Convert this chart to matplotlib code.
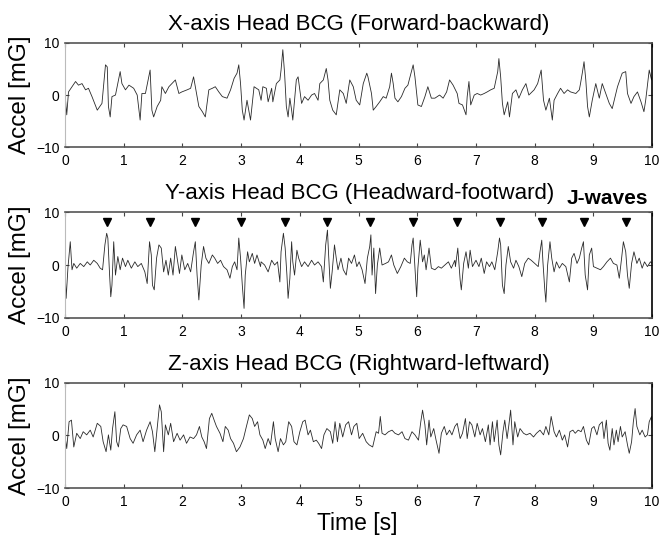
import numpy as np
import matplotlib
matplotlib.use("Agg")
import matplotlib.pyplot as plt

# head BCG traces, (time [s], accel [mG])
x_samples = [
    (0.00, 0.3), (0.03, -3.8), (0.06, 0.6), (0.18, 2.6), (0.23, 1.9), (0.29, 2.2),
    (0.35, 1.0), (0.40, 1.3), (0.46, -0.3), (0.55, -2.9), (0.63, -1.6), (0.69, 5.8),
    (0.72, 5.4), (0.74, -2.2), (0.77, -4.2), (0.80, -0.3), (0.86, 0.0), (0.94, 4.5),
    (0.97, 2.2), (1.03, 1.0), (1.09, 1.9), (1.17, 1.3), (1.23, 0.0), (1.28, -4.8),
    (1.31, 0.3), (1.37, 0.3), (1.45, 4.8), (1.48, -2.9), (1.51, -4.2), (1.57, -2.2),
    (1.63, -1.0), (1.65, 1.6), (1.71, 0.3), (1.77, 1.6), (1.82, 2.2), (1.88, 2.9),
    (1.94, 0.3), (1.99, 0.6), (2.08, 1.0), (2.14, 1.3), (2.19, 3.5), (2.22, 1.6),
    (2.28, -2.2), (2.34, -3.2), (2.39, -4.2), (2.45, 1.0), (2.51, 1.3), (2.56, 1.6),
    (2.62, 0.6), (2.68, -0.3), (2.76, -0.6), (2.82, 1.0), (2.88, 3.2), (2.93, 4.2),
    (2.96, 5.8), (2.99, 2.2), (3.02, -2.9), (3.05, -4.8), (3.10, -1.0), (3.16, -4.8),
    (3.22, 1.6), (3.30, 1.0), (3.34, -1.0), (3.37, 1.6), (3.43, 1.3), (3.46, -1.3),
    (3.52, 1.3), (3.54, -1.3), (3.60, 2.2), (3.66, 2.9), (3.68, 4.8), (3.71, 8.7),
    (3.74, 4.2), (3.77, -2.2), (3.80, -4.2), (3.83, -0.6), (3.86, -2.9), (3.88, -4.8),
    (3.91, -1.0), (3.94, 2.9), (3.97, 3.5), (4.00, 1.0), (4.03, -1.6), (4.08, -0.3),
    (4.14, -1.0), (4.20, 0.0), (4.25, 0.3), (4.31, -1.0), (4.34, 2.2), (4.40, 2.9),
    (4.45, 5.1), (4.48, 2.9), (4.51, -1.0), (4.56, -2.9), (4.62, -3.8), (4.68, 1.0),
    (4.74, 0.3), (4.79, -1.6), (4.85, 2.9), (4.91, 1.6), (4.96, -1.0), (5.02, -1.9),
    (5.08, 2.2), (5.14, 4.2), (5.16, 3.5), (5.22, 0.3), (5.25, -2.9), (5.30, -2.2),
    (5.36, -1.3), (5.42, -0.3), (5.47, -0.6), (5.53, 1.6), (5.56, 4.2), (5.59, 2.2),
    (5.62, -0.6), (5.67, -1.3), (5.73, -0.3), (5.79, 1.3), (5.84, 1.9), (5.90, 4.5),
    (5.93, 5.8), (5.96, 3.5), (6.01, -1.9), (6.07, -2.2), (6.13, -0.3), (6.18, 1.6),
    (6.24, -0.6), (6.30, -0.6), (6.38, 0.0), (6.44, -0.6), (6.50, 0.6), (6.55, 2.9),
    (6.61, 1.9), (6.68, 0.3), (6.71, -1.6), (6.77, -1.9), (6.83, -3.8), (6.85, -0.3),
    (6.88, 2.6), (6.91, -1.9), (6.97, 0.0), (7.02, 0.3), (7.08, 0.0), (7.14, 0.3),
    (7.19, 0.6), (7.25, 1.0), (7.31, 1.3), (7.37, 4.5), (7.39, 7.0), (7.42, 3.5),
    (7.45, -1.6), (7.48, -3.8), (7.54, -1.3), (7.57, -4.2), (7.62, 0.3), (7.68, 1.0),
    (7.73, -0.6), (7.79, 1.0), (7.85, 2.2), (7.90, 0.0), (7.99, 1.0), (8.05, 2.2),
    (8.11, 4.8), (8.15, -1.0), (8.19, -2.9), (8.25, -0.6), (8.30, -4.8), (8.33, -1.0),
    (8.39, 0.3), (8.44, 1.3), (8.50, 0.3), (8.56, 1.0), (8.61, 0.6), (8.70, 0.3),
    (8.76, 1.0), (8.78, 2.2), (8.81, 4.2), (8.84, 6.4), (8.87, 2.9), (8.90, -2.2),
    (8.93, -4.2), (8.98, -1.0), (9.04, 2.2), (9.10, -0.6), (9.15, 2.2), (9.21, 0.3),
    (9.27, -1.6), (9.32, -2.6), (9.41, 1.6), (9.49, 4.2), (9.55, 4.5), (9.58, 0.3),
    (9.64, -1.6), (9.69, -0.3), (9.75, 0.6), (9.81, -1.3), (9.86, -3.2), (9.89, -1.0),
    (9.95, 4.8), (9.99, 2.9), (10.00, 3.5),
]

y_samples = [
    (0.00, -0.3), (0.02, -6.3), (0.05, -0.6), (0.09, 4.4), (0.12, -0.9), (0.15, 0.3),
    (0.20, -0.6), (0.26, 0.3), (0.32, -0.3), (0.38, 0.6), (0.43, 0.0), (0.49, 0.9),
    (0.55, 0.3), (0.60, -0.6), (0.64, -0.9), (0.68, 3.8), (0.71, 6.0), (0.73, 5.1),
    (0.76, -1.9), (0.78, -6.0), (0.80, -3.8), (0.83, 4.4), (0.86, -1.9), (0.90, 1.6),
    (0.94, -0.9), (0.98, 1.3), (1.03, -0.3), (1.07, 0.9), (1.13, -0.6), (1.19, 0.6),
    (1.24, -0.3), (1.30, 0.3), (1.36, -1.3), (1.40, -3.5), (1.44, 4.4), (1.47, 1.9),
    (1.49, -3.8), (1.52, -4.7), (1.56, 1.3), (1.60, 3.8), (1.64, 3.2), (1.68, -1.3),
    (1.72, 0.9), (1.76, -1.9), (1.80, 1.3), (1.84, -1.9), (1.88, 3.5), (1.91, 1.3),
    (1.95, -1.6), (1.99, 1.9), (2.04, -0.9), (2.09, 0.3), (2.14, -1.3), (2.19, 2.5),
    (2.22, 4.4), (2.25, -1.9), (2.28, -6.6), (2.32, 0.0), (2.36, 3.5), (2.40, 1.3),
    (2.45, 0.3), (2.51, 1.9), (2.55, 1.3), (2.60, 0.3), (2.65, 0.9), (2.70, -0.3),
    (2.76, -0.9), (2.81, -2.5), (2.85, -0.3), (2.89, 0.6), (2.93, -0.9), (2.96, 5.1),
    (2.99, 1.3), (3.02, -3.8), (3.05, -8.2), (3.07, -1.9), (3.11, 2.5), (3.14, 0.6),
    (3.19, 2.2), (3.23, 0.3), (3.27, 1.9), (3.33, -0.3), (3.34, 0.6), (3.40, 0.0),
    (3.46, -1.3), (3.52, 0.9), (3.57, 0.0), (3.62, 0.6), (3.66, -3.2), (3.68, 2.5),
    (3.72, 6.0), (3.75, 3.2), (3.78, -1.9), (3.80, -6.3), (3.83, -2.5), (3.86, 4.4),
    (3.88, 0.6), (3.91, -1.9), (3.95, 2.8), (3.98, 1.3), (4.03, -0.3), (4.08, 0.6),
    (4.14, -0.3), (4.20, 0.9), (4.25, 0.0), (4.31, 0.6), (4.37, -0.3), (4.40, -3.2),
    (4.44, 3.8), (4.47, 6.6), (4.49, 1.9), (4.52, -4.4), (4.55, -1.3), (4.59, 3.8),
    (4.62, 1.3), (4.65, -0.9), (4.70, 1.3), (4.74, -0.9), (4.79, -1.9), (4.83, 1.3),
    (4.88, 0.3), (4.93, 1.9), (4.97, -0.3), (5.01, 0.6), (5.06, -0.9), (5.11, -3.5),
    (5.15, 1.3), (5.19, 3.5), (5.21, 5.7), (5.23, -1.9), (5.26, 3.2), (5.29, -5.4),
    (5.32, 0.0), (5.36, 3.2), (5.40, 0.0), (5.46, 0.3), (5.51, 0.6), (5.56, 1.9),
    (5.60, 0.0), (5.66, -1.6), (5.72, -0.3), (5.78, 1.3), (5.83, 0.6), (5.88, 0.3),
    (5.91, 3.8), (5.93, 5.1), (5.96, -0.6), (5.99, -6.0), (6.01, -0.6), (6.05, 4.7),
    (6.09, 0.6), (6.12, 1.9), (6.15, -0.9), (6.20, 3.2), (6.24, -0.6), (6.30, -0.9),
    (6.36, -0.3), (6.41, -0.6), (6.47, 0.0), (6.53, 0.6), (6.58, -0.6), (6.64, 0.9),
    (6.65, -0.3), (6.69, 3.2), (6.73, -2.8), (6.75, -4.7), (6.79, 0.3), (6.83, 2.5),
    (6.87, -0.6), (6.90, 2.8), (6.94, -0.3), (7.00, 0.9), (7.05, -0.3), (7.09, 1.3),
    (7.14, -1.6), (7.18, 0.6), (7.23, -0.3), (7.27, 0.6), (7.32, -0.9), (7.37, 2.5),
    (7.40, 5.1), (7.42, 3.8), (7.45, -3.8), (7.48, -5.4), (7.51, 0.0), (7.55, 3.5),
    (7.59, 0.6), (7.64, -0.6), (7.68, 0.9), (7.73, -0.3), (7.78, -2.2), (7.83, 0.3),
    (7.89, 1.3), (7.94, 0.9), (8.00, 0.3), (8.06, -0.3), (8.09, 2.5), (8.12, 4.7),
    (8.14, 0.6), (8.17, -4.4), (8.19, -7.0), (8.22, 0.0), (8.26, 4.4), (8.29, 1.3),
    (8.33, -1.3), (8.37, 0.6), (8.42, -0.6), (8.47, 0.3), (8.53, -0.3), (8.59, -3.2),
    (8.63, 1.3), (8.67, 2.2), (8.72, 0.3), (8.76, 1.3), (8.80, 3.2), (8.83, 4.4),
    (8.86, -1.9), (8.90, -4.7), (8.93, 1.9), (8.97, 3.2), (9.00, -0.3), (9.06, -0.6),
    (9.12, -0.9), (9.17, -0.3), (9.23, 0.6), (9.29, 1.3), (9.34, 0.3), (9.40, 0.0),
    (9.44, -2.5), (9.48, 1.3), (9.51, 4.4), (9.55, 2.5), (9.58, -1.9), (9.61, -4.4),
    (9.65, 0.3), (9.69, 2.5), (9.74, 0.3), (9.78, 1.3), (9.83, -0.6), (9.87, 0.6),
    (9.92, -0.3), (9.97, 0.6), (10.00, 0.3),
]

z_samples = [
    (0.00, 0.0), (0.03, -2.5), (0.07, 2.6), (0.11, 2.9), (0.15, -2.2), (0.20, 0.4),
    (0.26, -0.6), (0.31, 0.7), (0.37, 0.1), (0.43, 1.0), (0.48, -0.3), (0.55, 2.3),
    (0.61, 1.7), (0.65, -1.2), (0.70, -3.1), (0.74, 0.1), (0.78, -2.8), (0.81, 1.3),
    (0.85, 4.5), (0.88, -1.2), (0.91, -2.2), (0.95, 1.3), (0.99, 2.0), (1.05, 1.7),
    (1.11, -0.6), (1.16, -1.5), (1.22, 0.1), (1.28, 1.0), (1.33, -1.2), (1.39, 1.0),
    (1.45, 2.6), (1.49, 0.7), (1.53, -3.1), (1.57, 1.3), (1.61, 5.8), (1.64, 4.5),
    (1.68, -3.1), (1.71, 2.0), (1.76, 0.1), (1.80, 2.3), (1.85, -1.2), (1.91, 0.4),
    (1.96, -0.9), (2.02, 0.1), (2.07, -1.5), (2.13, -0.3), (2.19, -0.6), (2.24, 0.1),
    (2.29, 1.7), (2.33, -0.3), (2.37, -1.2), (2.41, -2.5), (2.46, 3.2), (2.50, 4.2),
    (2.54, 2.9), (2.58, 1.7), (2.64, 0.4), (2.69, -1.2), (2.73, 1.7), (2.78, 1.0),
    (2.82, -0.6), (2.87, -1.5), (2.92, -3.1), (2.98, -2.2), (3.04, -0.6), (3.09, 1.7),
    (3.14, 3.9), (3.19, 3.2), (3.23, 1.7), (3.28, 2.6), (3.32, 0.1), (3.37, -0.9),
    (3.41, -2.5), (3.46, -0.6), (3.50, -1.8), (3.55, 2.6), (3.58, -0.6), (3.63, -3.1),
    (3.67, -0.6), (3.72, -1.8), (3.76, -1.2), (3.81, 2.6), (3.86, 1.7), (3.90, -1.2),
    (3.95, -1.8), (4.00, 0.7), (4.05, 2.6), (4.09, 2.9), (4.14, 0.1), (4.18, 1.0),
    (4.23, -1.2), (4.28, -0.9), (4.32, -1.5), (4.37, -2.5), (4.41, 0.1), (4.46, 1.3),
    (4.52, 0.7), (4.56, -1.5), (4.60, 2.6), (4.64, -1.2), (4.68, 2.3), (4.73, -0.3),
    (4.78, 2.0), (4.83, 2.6), (4.88, 0.1), (4.92, 1.7), (4.97, 2.3), (5.01, -0.6),
    (5.07, 0.4), (5.13, -1.2), (5.18, -1.8), (5.24, -2.2), (5.30, 0.7), (5.34, 0.4),
    (5.37, 3.6), (5.40, 0.4), (5.45, 0.1), (5.51, 0.7), (5.57, 1.0), (5.62, 0.4),
    (5.68, 0.1), (5.74, 0.7), (5.79, -0.6), (5.85, -0.9), (5.91, 0.7), (5.96, 0.1),
    (6.02, -0.9), (6.06, 2.6), (6.09, 4.8), (6.13, 2.0), (6.16, -1.8), (6.20, 2.9),
    (6.23, -0.3), (6.28, 1.3), (6.32, -0.9), (6.37, -3.4), (6.41, 0.4), (6.46, 1.7),
    (6.50, 0.1), (6.55, 1.0), (6.59, 0.1), (6.64, 1.7), (6.68, 2.3), (6.73, -0.6),
    (6.77, 0.4), (6.82, 3.2), (6.85, -0.6), (6.89, 2.6), (6.93, 2.0), (6.98, -0.3),
    (7.02, 2.3), (7.07, 0.1), (7.11, 1.3), (7.16, -1.2), (7.21, 2.0), (7.24, -1.8),
    (7.28, 2.6), (7.31, -1.2), (7.36, 2.9), (7.39, -1.8), (7.42, -3.7), (7.46, 0.7),
    (7.49, 2.9), (7.53, -0.6), (7.56, 2.0), (7.59, 4.8), (7.63, -1.8), (7.66, 2.6),
    (7.71, -0.3), (7.75, 1.3), (7.81, 0.4), (7.86, 0.1), (7.92, 0.4), (7.98, -0.3),
    (8.03, 0.4), (8.09, 1.0), (8.15, 0.1), (8.19, 1.7), (8.24, 0.1), (8.28, 3.6),
    (8.33, 0.7), (8.37, -0.3), (8.42, 1.0), (8.47, -0.9), (8.51, 0.1), (8.56, -2.2),
    (8.60, 0.7), (8.65, 1.0), (8.69, 0.4), (8.74, 1.0), (8.79, 0.7), (8.83, 1.7),
    (8.88, -0.9), (8.92, -1.8), (8.97, 1.3), (9.01, 1.7), (9.06, 0.1), (9.10, 2.0),
    (9.15, 2.6), (9.18, -0.6), (9.22, 2.9), (9.25, -1.5), (9.28, -2.8), (9.32, 1.3),
    (9.35, -1.8), (9.39, 1.0), (9.42, -1.2), (9.46, 1.7), (9.49, -0.3), (9.54, 0.7),
    (9.58, -1.8), (9.61, -3.4), (9.65, -1.2), (9.68, 2.6), (9.71, 5.1), (9.74, 1.7),
    (9.79, 0.1), (9.83, 1.0), (9.88, -0.3), (9.92, 0.1), (9.95, 2.6), (9.99, 3.6),
    (10.00, 1.5),
]

# J-wave markers on the headward-footward trace
jwave_times = [0.72, 1.45, 2.22, 3.00, 3.74, 4.47, 5.20, 5.93, 6.67, 7.41, 8.13, 8.84, 9.55]
jwave_level = 8.2

titles = [
    "X-axis Head BCG (Forward-backward)",
    "Y-axis Head BCG (Headward-footward)",
    "Z-axis Head BCG (Rightward-leftward)",
]

plt.rcParams["font.family"] = ["Liberation Sans", "DejaVu Sans"]

fig = plt.figure(figsize=(6.59, 5.37), dpi=100)

# axes boxes in figure fractions: left, bottom, width, height
boxes = [
    (0.0986, 0.726, 0.891, 0.194),
    (0.0986, 0.408, 0.891, 0.197),
    (0.0986, 0.0912, 0.891, 0.196),
]
title_base = [0.944, 0.629, 0.311]

for i, samples in enumerate([x_samples, y_samples, z_samples]):
    ax = fig.add_axes(boxes[i])
    t, acc = np.array(samples).T
    ax.plot(t, acc, color="#2a2a2a", linewidth=0.6)

    ax.set_xlim(0, 10)
    ax.set_ylim(-10, 10)
    ax.set_xticks(range(0, 11))
    ax.set_yticks([-10, 0, 10])
    ax.tick_params(direction="in", length=3, width=0.8, top=True, right=True,
                   labelsize=10, color="#444444")
    ax.tick_params(axis="x", pad=5)
    ax.tick_params(axis="y", pad=4)

    for side in ["top", "bottom"]:
        ax.spines[side].set_color("#555555")
        ax.spines[side].set_linewidth(1.2)
    ax.spines["left"].set_color("#bbbbbb")
    ax.spines["left"].set_linewidth(0.8)
    ax.spines["right"].set_color("black")
    ax.spines["right"].set_linewidth(1.2)

    fig.text(0.545, title_base[i], titles[i], ha="center", va="baseline", fontsize=16)
    yc = boxes[i][1] + boxes[i][3] / 2
    fig.text(0.031, yc, "Accel [mG]", rotation=90, ha="center", va="center", fontsize=17.5)

    if i == 1:
        ax.plot(jwave_times, [jwave_level] * len(jwave_times), linestyle="none",
                marker="v", markersize=6, color="black")

fig.text(0.921, 0.620, "J-waves", ha="center", va="baseline", fontsize=15,
         fontweight="bold")
fig.text(0.542, 0.013, "Time [s]", ha="center", va="baseline", fontsize=16.5)

fig.savefig("out.png", dpi=100)
